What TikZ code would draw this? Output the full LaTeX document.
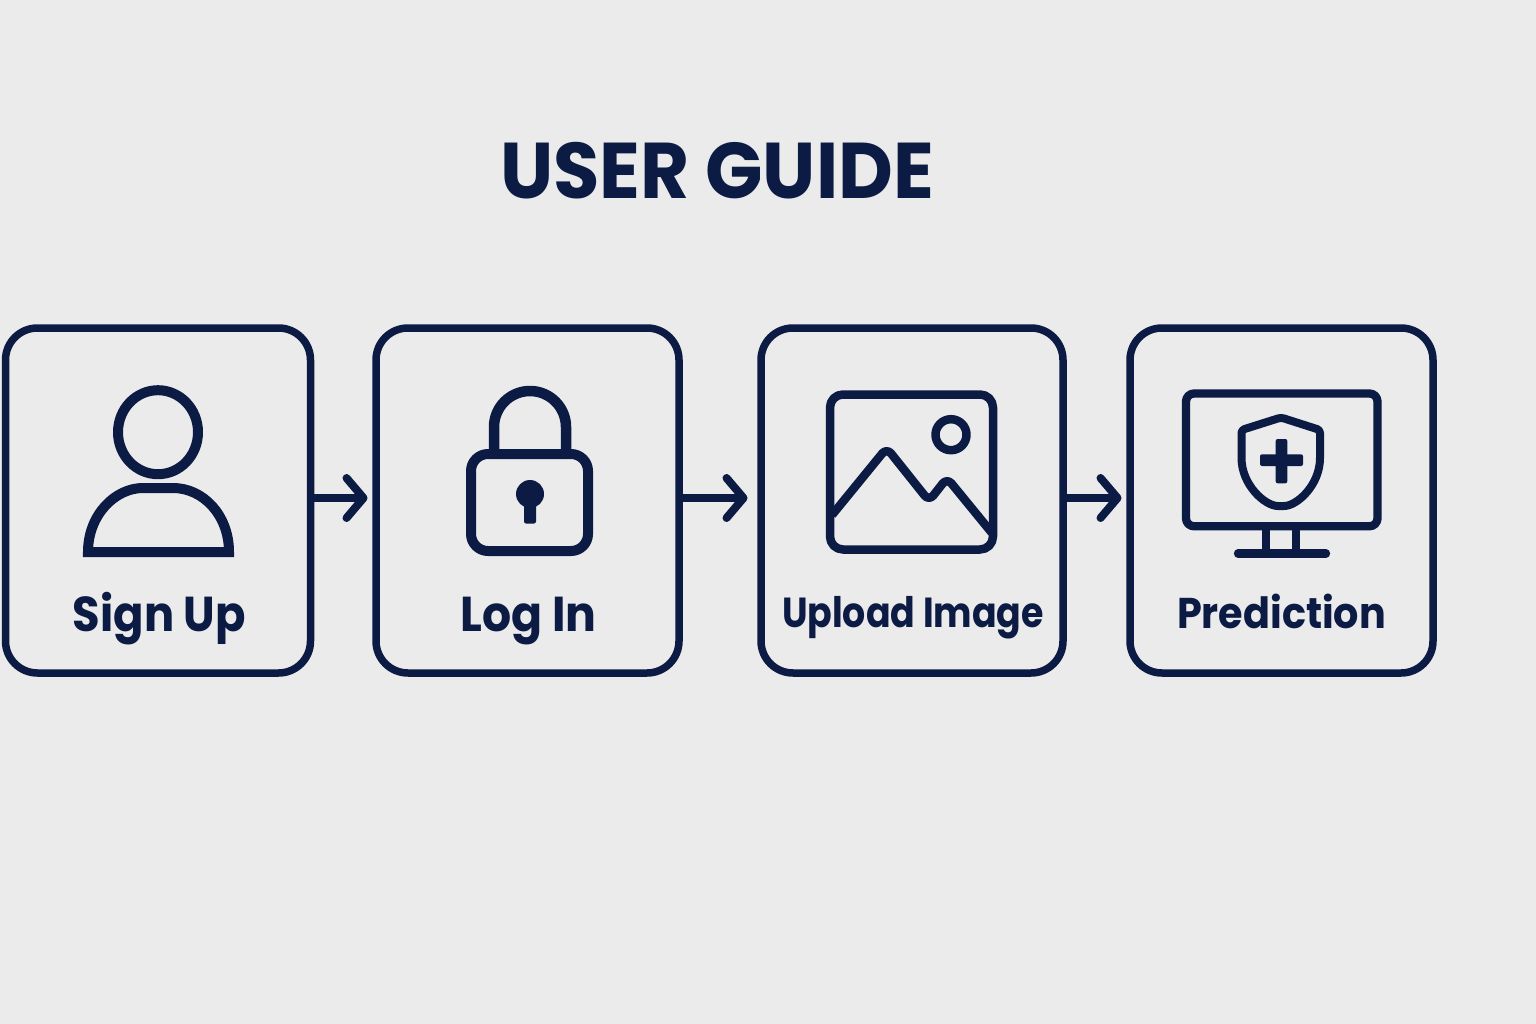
\documentclass[tikz,border=0pt]{standalone}
\usepackage{graphicx}
\usepackage{fontspec}
\setmainfont{Poppins}
\usetikzlibrary{arrows.meta}
\definecolor{navy}{HTML}{0C1B43}
\definecolor{paper}{HTML}{EBEBEB}
\newcommand{\fitlabel}[3]{\fontsize{#2}{#2}\selectfont\bfseries\resizebox{#3pt}{\height}{#1}}
\tikzset{
  x=1pt,y=-1pt,
  card/.style={draw=navy,line width=7.5pt,rounded corners=32pt,minimum height=345pt,inner sep=0pt,outer sep=0pt,anchor=north west},
  flow/.style={draw=navy,line width=7.5pt,-{Straight Barb[length=17pt,width=40pt,line width=8pt,round]}},
  icon/.style={draw=navy,line width=#1,line join=round},
  lbl/.style={text=navy,inner sep=0pt,anchor=base},
}
\begin{document}
\begin{tikzpicture}
\useasboundingbox (0,0) rectangle (1536,1024);
\fill[paper] (0,0) rectangle (1536,1024);
\node[lbl] (title) at (717,199) {\fitlabel{USER GUIDE}{79}{434}};
% cards
\node[card,minimum width=305pt] (c1) at (5.5,328) {};
\node[card,minimum width=303pt] (c2) at (376,328) {};
\node[card,minimum width=302pt] (c3) at (761,328) {};
\node[card,minimum width=303pt] (c4) at (1130,328) {};
% connectors
\draw[flow,shorten >=8.5pt] ([yshift=2.5pt]c1.east) -- ([yshift=2.5pt]c2.west);
\draw[flow,shorten >=13.5pt] ([yshift=2.5pt]c2.east) -- ([yshift=2.5pt]c3.west);
\draw[flow,shorten >=8.5pt] ([yshift=2.5pt]c3.east) -- ([yshift=2.5pt]c4.west);
% person
\draw[icon=10pt] (158,432.2) ellipse[x radius=40,y radius=42];
\draw[icon=10pt,line join=miter] (88,552) .. controls (88,515) and (115,488) .. (143,488) -- (173,488) .. controls (203,488) and (229,515) .. (229,552) -- cycle;
% lock
\draw[icon=10.5pt] (494,452) -- (494,427) arc[start angle=180,end angle=360,radius=36] -- (566,452);
\draw[icon=10pt,rounded corners=17pt] (471,454) rectangle (588,551);
\fill[navy] (530,494) circle[radius=14];
\fill[navy,rounded corners=2pt] (524,498) rectangle (536,523.5);
% image
\draw[icon=8.5pt,rounded corners=13pt] (830,394.5) rectangle (993,549.5);
\draw[icon=8.5pt] (951,434.7) circle[radius=15.5];
\draw[icon=8.5pt,rounded corners=7pt] (832,515) -- (886.7,448) -- (929,501) -- (947,478) -- (992,533);
% monitor
\draw[icon=8.3pt,rounded corners=8pt] (1186,393.5) rectangle (1377.5,526.3);
\draw[icon=8pt] (1266,530) -- (1266,553);
\draw[icon=8pt] (1296,530) -- (1296,553);
\draw[icon=8.3pt,line cap=round] (1238,553.5) -- (1326,553.5);
\draw[icon=8pt,rounded corners=3pt] (1281,417.5) -- (1320,430) -- (1320,455) .. controls (1320,485) and (1297,506) .. (1281,506) .. controls (1265,506) and (1241.5,485) .. (1241.5,455) -- (1241.5,430) -- cycle;
\fill[navy,rounded corners=2pt] (1275.7,439) rectangle (1287.3,483.3);
\fill[navy,rounded corners=2pt] (1260,454.3) rectangle (1303,466);
% labels
\node[lbl] (t1) at (159.5,631) {\fitlabel{Sign Up}{49}{173}};
\node[lbl] (t2) at (528.5,631) {\fitlabel{Log In}{49}{136}};
\node[lbl] (t3) at (913,627) {\fitlabel{Upload Image}{42}{262}};
\node[lbl] (t4) at (1281.5,628) {\fitlabel{Prediction}{43}{209}};
\end{tikzpicture}
\end{document}
